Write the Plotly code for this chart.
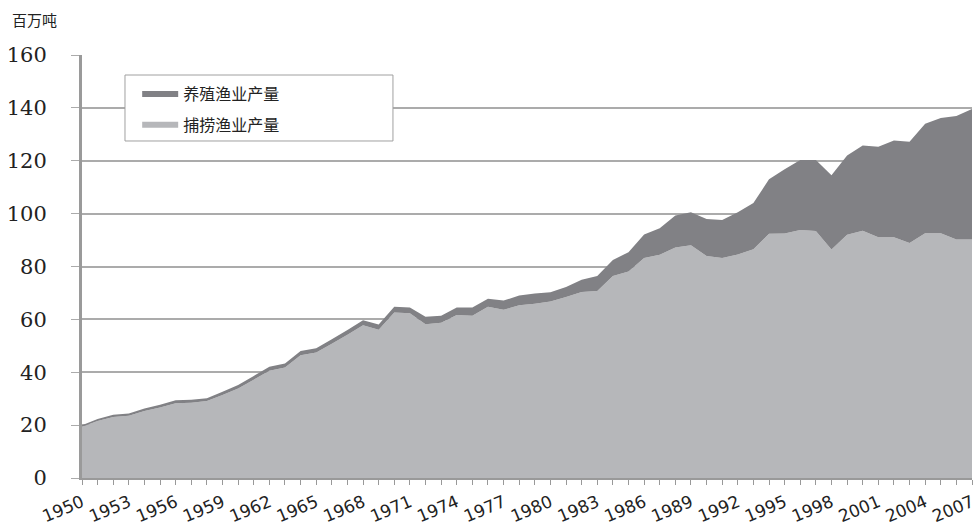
import plotly.graph_objects as go

years = list(range(1950, 2008))
tick_years = list(range(1950, 2008, 3))

capture = [19.4, 21.6, 23.1, 23.5, 25.3, 26.7, 28.3, 28.5, 29.1, 31.4,
           33.9, 37.2, 40.6, 41.8, 46.4, 47.5, 50.8, 54.2, 57.8, 56.1,
           62.6, 62.3, 58.2, 58.7, 61.7, 61.4, 64.8, 63.6, 65.3, 65.9,
           66.8, 68.5, 70.4, 70.7, 76.4, 78.1, 83.2, 84.4, 87.2, 88.0,
           84.0, 83.2, 84.5, 86.5, 92.4, 92.5, 93.8, 93.4, 86.4, 92.0,
           93.5, 91.1, 91.1, 88.9, 92.6, 92.6, 90.2, 90.2]

aquaculture = [0.6, 0.7, 0.8, 0.9, 1.0, 1.0, 1.1, 1.1, 1.1, 1.2,
               1.3, 1.4, 1.5, 1.5, 1.6, 1.6, 1.7, 1.8, 1.9, 2.0,
               2.2, 2.2, 2.8, 2.7, 2.8, 3.1, 3.0, 3.5, 3.7, 3.9,
               3.5, 3.7, 4.6, 5.7, 6.1, 7.3, 8.9, 10.1, 12.1, 12.5,
               14.0, 14.4, 16.0, 17.5, 20.6, 24.3, 26.5, 26.9, 28.1, 30.0,
               32.3, 34.2, 36.6, 38.3, 41.4, 43.6, 46.7, 49.4]

name_capture = "捕捞渔业产量"
name_aqua = "养殖渔业产量"
unit_label = "百万吨"

fig = go.Figure()
fig.add_trace(go.Scatter(
    x=years, y=capture, name=name_capture, stackgroup="one", mode="none",
    fillcolor="#b6b7ba", legendgroup="b", legendrank=2, hoverinfo="x+y"))
fig.add_trace(go.Scatter(
    x=years, y=aquaculture, name=name_aqua, stackgroup="one", mode="none",
    fillcolor="#818185", legendgroup="a", legendrank=1, hoverinfo="x+y"))

fig.update_layout(
    width=974, height=527,
    margin=dict(l=82, r=2, t=55, b=49),
    paper_bgcolor="white", plot_bgcolor="white",
    showlegend=True,
    legend=dict(
        x=0.062, y=0.948, xanchor="left", yanchor="top",
        bgcolor="rgba(0,0,0,0)", borderwidth=0,
        traceorder="grouped", tracegroupgap=7,
        font=dict(family="Noto Sans CJK SC", size=16, color="#222"),
        itemwidth=36,
    ),
    shapes=[dict(
        type="rect", xref="paper", yref="paper",
        x0=0.0483, x1=0.3494, y0=0.7967, y1=0.9527,
        line=dict(color="#a0a0a0", width=1), fillcolor="white", layer="above")],
    annotations=[dict(
        text=unit_label, xref="paper", yref="paper",
        x=-0.081, y=1.083, xanchor="left", yanchor="middle",
        showarrow=False,
        font=dict(family="Noto Sans CJK SC", size=15, color="#222"))],
)

fig.update_xaxes(
    range=[1950, 2007], tickmode="array", tickvals=tick_years,
    ticktext=[str(y) for y in tick_years], automargin=False,
    tickangle=-23, ticks="outside", ticklen=5, tickcolor="#999",
    ticklabelstandoff=1, ticklabeloverflow="allow",
    tickfont=dict(family="DejaVu Sans", size=17, color="#222"),
    showgrid=False, showline=True, linecolor="#999", linewidth=2,
    minor=dict(tickmode="array", tickvals=years, ticks="outside", ticklen=5, tickcolor="#999"),
    zeroline=False,
)
fig.update_yaxes(
    range=[0, 160], dtick=20, automargin=False,
    showgrid=True, gridcolor="#ababab", gridwidth=1.5,
    ticks="outside", ticklen=8, tickcolor="#ababab",
    ticklabelstandoff=20,
    tickfont=dict(family="DejaVu Serif", size=21, color="#222"),
    showline=True, linecolor="#9a9a9a", linewidth=3,
    zeroline=False,
)

fig.write_html(
    "out.html",
    config={"displayModeBar": False},
    post_script="document.body.style.margin='0';document.body.style.overflow='hidden';",
)
